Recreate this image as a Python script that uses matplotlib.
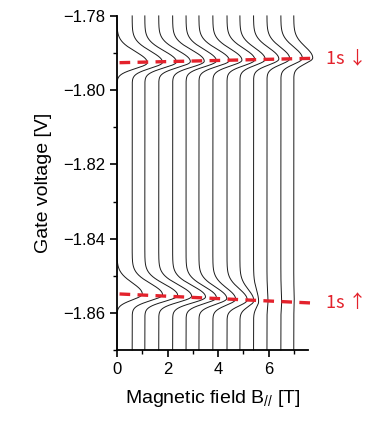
import numpy as np
import matplotlib.pyplot as plt
from matplotlib.ticker import MultipleLocator

plt.rcParams['font.family'] = ['Liberation Sans', 'DejaVu Sans']
plt.rcParams['mathtext.fontset'] = 'custom'
plt.rcParams['mathtext.rm'] = 'Liberation Sans'
plt.rcParams['mathtext.it'] = 'Liberation Sans:italic'

# -----------------------------
# Data
# -----------------------------
# trace baseline (field offset, T)
b_offset = [0.0, 0.6, 1.1, 1.65, 2.2, 2.73, 3.24, 3.79, 4.35, 4.86, 5.4, 5.93, 6.48, 6.99]
# upper peak (1s down): centre voltage and height
up_center = [-1.7926, -1.7925, -1.7924, -1.7923, -1.7922, -1.7921, -1.7920,
             -1.7919, -1.7918, -1.7917, -1.7916, -1.7915, -1.7914, -1.7913]
up_amp = [1.2, 1.2, 1.25, 1.25, 1.25, 1.2, 1.2, 1.15, 1.1, 1.0, 1.0, 0.9, 0.85, 0.75]
# lower peak (1s up)
dn_center = [-1.8549, -1.8551, -1.8553, -1.8555, -1.8557, -1.8559, -1.8561,
             -1.8563, -1.8565, -1.8567, -1.8569, -1.8571, -1.8573, -1.8574]
dn_amp = [1.0, 1.2, 1.3, 1.3, 1.3, 1.2, 1.1, 0.9, 0.8, 0.55, 0.2, 0.04, 0.03, 0.02]

# red guide lines (1s down / 1s up)
guide_b = [0.1, 7.9]
guide_up = [-1.7926, -1.7914]
guide_dn = [-1.8549, -1.8574]

RED = '#e3222c'


def peak(v, v0, amp, s_hi=0.0030, s_lo=0.0016):
    s = np.where(v > v0, s_hi, s_lo)
    return amp * np.exp(-0.5 * ((v - v0) / s) ** 2)


v = np.linspace(-1.87, -1.78, 2000)

fig = plt.figure(figsize=(3.92, 4.30), dpi=100)
ax = fig.add_axes([0.2985, 0.186, 0.487, 0.777])

for i in range(len(b_offset)):
    x = b_offset[i] + peak(v, up_center[i], up_amp[i]) + peak(v, dn_center[i], dn_amp[i])
    ax.plot(x, v, color='#1a1a1a', lw=0.7, clip_on=False, zorder=2)

ax.plot(guide_b, guide_up, color=RED, lw=2.4, ls=(0, (3.2, 2.2)), clip_on=False, zorder=3)
ax.plot(guide_b, guide_dn, color=RED, lw=2.4, ls=(0, (3.2, 2.2)), clip_on=False, zorder=3)

ax.text(8.25, guide_up[1], '1s ↓', color=RED, fontsize=13, va='center', ha='left',
        family=['Noto Sans CJK JP', 'DejaVu Sans'])
ax.text(8.25, guide_dn[1], '1s ↑', color=RED, fontsize=13, va='center', ha='left',
        family=['Noto Sans CJK JP', 'DejaVu Sans'])

ax.set_xlim(0, 7.55)
ax.set_ylim(-1.87, -1.78)
ax.xaxis.set_major_locator(MultipleLocator(2))
ax.xaxis.set_minor_locator(MultipleLocator(1))
ax.yaxis.set_major_locator(MultipleLocator(0.02))
ax.yaxis.set_minor_locator(MultipleLocator(0.01))
ax.yaxis.set_major_formatter(plt.FuncFormatter(lambda y, p: f'{y:.2f}'.replace('-', '\u2212')))

ax.spines['top'].set_visible(False)
ax.spines['right'].set_visible(False)
ax.spines['left'].set_linewidth(1.3)
ax.spines['bottom'].set_linewidth(1.3)
ax.tick_params(which='major', direction='out', length=5, width=1.2, labelsize=12)
ax.tick_params(which='minor', direction='out', length=3, width=1.0)

ax.set_xlabel('Magnetic field B$_{\\mathit{//}}$ [T]', fontsize=14, labelpad=8)
ax.set_ylabel('Gate voltage [V]', fontsize=14, labelpad=8)

fig.savefig('out.png', dpi=100)
